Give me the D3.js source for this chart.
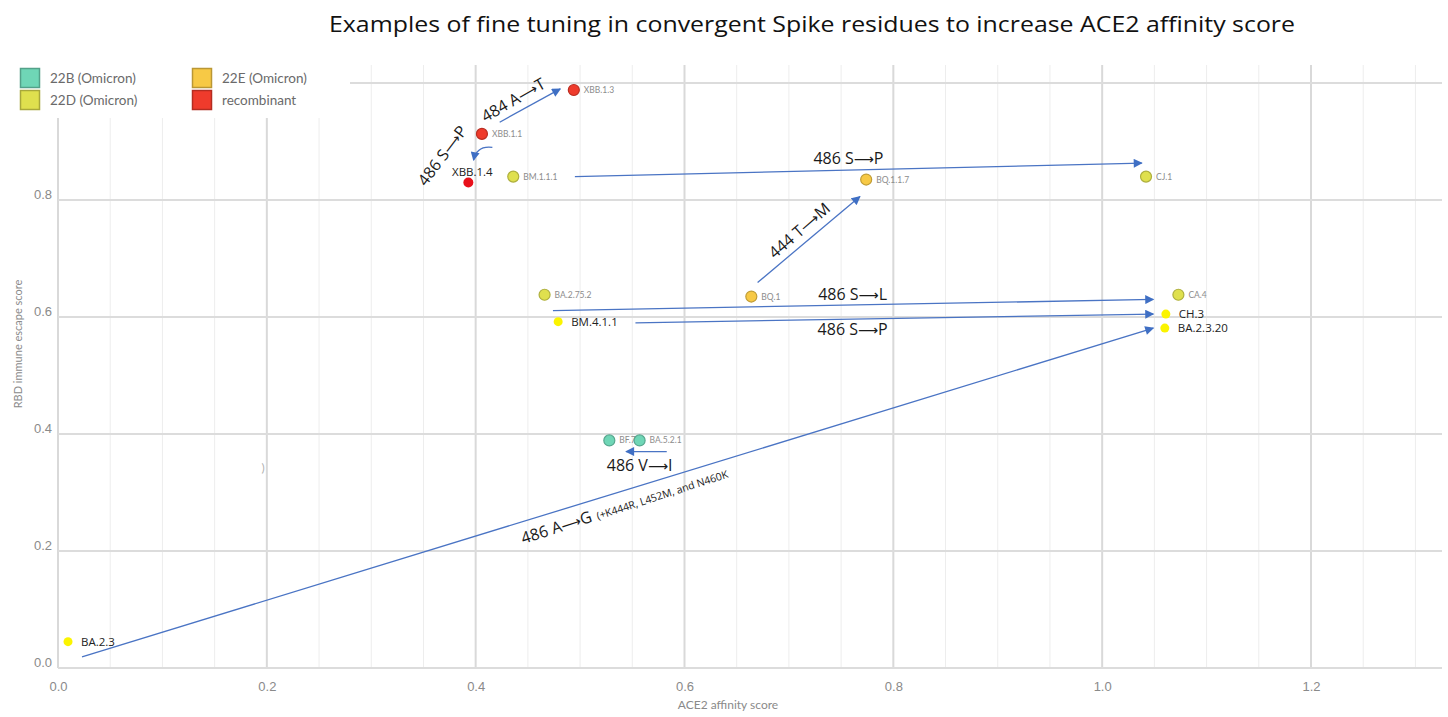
<!DOCTYPE html>
<html>
<head>
<meta charset="utf-8">
<script src="https://cdn.jsdelivr.net/npm/d3@7"></script>
<style>
  body { margin: 0; background: #fff; }
  svg { display: block; }
</style>
</head>
<body>
<div id="chart"></div>
<script>
//chart values
var clades = ["22B (Omicron)", "22D (Omicron)", "22E (Omicron)", "recombinant"];
var cladeColors = ["#6fd6b6", "#dfe04e", "#f7c945", "#ef3b2c"];

//Nextstrain points
var names  = ["XBB.1.3", "XBB.1.1", "BM.1.1.1", "BQ.1.1.7", "CJ.1", "BA.2.75.2", "BQ.1", "CA.4", "BF.7", "BA.5.2.1"];
var ace2   = [0.494, 0.406, 0.436, 0.774, 1.042, 0.466, 0.664, 1.073, 0.528, 0.557];
var escape = [0.988, 0.913, 0.840, 0.835, 0.840, 0.638, 0.635, 0.638, 0.389, 0.389];
var cladeOf = [3, 3, 1, 2, 1, 1, 2, 1, 0, 0];

//hand added points
var extraNames  = ["XBB.1.4", "BM.4.1.1", "CH.3", "BA.2.3.20", "BA.2.3"];
var extraAce2   = [0.393, 0.479, 1.061, 1.060, 0.0096];
var extraEscape = [0.830, 0.592, 0.605, 0.581, 0.045];

//mutation arrows (data units)
var arrowFromX = [0.423, 0.416, 0.495, 0.670, 0.474, 0.553, 0.023, 0.583];
var arrowFromY = [0.933, 0.890, 0.840, 0.659, 0.611, 0.590, 0.019, 0.370];
var arrowToX   = [0.481, 0.398, 1.038, 0.768, 1.049, 1.049, 1.049, 0.544];
var arrowToY   = [0.990, 0.868, 0.863, 0.806, 0.630, 0.605, 0.581, 0.370];

var mutLabels = ["484 A\u2192T", "486 S\u2192P", "486 S\u2192P", "444 T\u2192M", "486 S\u2192L", "486 S\u2192P", "486 A\u2192G", "486 V\u2192I"];
var mutX      = [0.436, 0.368, 0.757, 0.710, 0.761, 0.761, 0.444, 0.557];
var mutY      = [0.971, 0.876, 0.871, 0.748, 0.638, 0.578, 0.221, 0.346];
var mutAngle  = [-30, -53, 0, -41, 0, 0, -18, 0];

var xTicks = [0, 0.2, 0.4, 0.6, 0.8, 1.0, 1.2];
var yTicks = [0, 0.2, 0.4, 0.6, 0.8];

var width = 1448, height = 717;

var x = d3.scaleLinear().domain([0, 1.2]).range([58, 1311]);
var y = d3.scaleLinear().domain([0, 0.8]).range([668, 200]);
var xMax = x.invert(1442), yMax = y.invert(65);

var svg = d3.select("#chart").append("svg")
    .attr("width", width)
    .attr("height", height)
    .style("font-family", "Lato, 'Open Sans', sans-serif");

var defs = svg.append("defs");
defs.append("marker")
    .attr("id", "head")
    .attr("viewBox", "0 0 10 10")
    .attr("refX", 9).attr("refY", 5)
    .attr("markerWidth", 10).attr("markerHeight", 9)
    .attr("markerUnits", "userSpaceOnUse")
    .attr("orient", "auto")
    .append("path")
    .attr("d", "M0,0 L10,5 L0,10 Z")
    .attr("fill", "#3f6fc4");

//grid
var grid = svg.append("g");
var minorX = d3.range(0, xMax, 0.05);
function isMajor(d) { return Math.abs(d / 0.2 - Math.round(d / 0.2)) < 1e-6; }
grid.selectAll(".vx")
    .data(minorX)
    .enter().append("line")
    .attr("x1", function (d) { return x(d); })
    .attr("x2", function (d) { return x(d); })
    .attr("y1", y(0))
    .attr("y2", y(yMax))
    .attr("stroke", function (d) { return isMajor(d) ? "#d9d9d9" : "#ededed"; })
    .attr("stroke-width", function (d) { return isMajor(d) ? 2 : 1; });

grid.selectAll(".hy")
    .data(yTicks.concat([1.0]))
    .enter().append("line")
    .attr("x1", x(0))
    .attr("x2", x(xMax))
    .attr("y1", function (d) { return y(d); })
    .attr("y2", function (d) { return y(d); })
    .attr("stroke", "#dcdcdc")
    .attr("stroke-width", 2);

//axes
var xAxis = svg.append("g")
    .attr("transform", "translate(0," + 687 + ")")
    .call(d3.axisBottom(x).tickValues(xTicks).tickSize(0).tickFormat(d3.format(".1f")));
xAxis.select(".domain").remove();
xAxis.selectAll("text").attr("fill", "#8a8a8a").style("font-size", "13px").attr("dy", "0.32em").attr("y", 0);

var yAxis = svg.append("g")
    .attr("transform", "translate(" + 52 + ",0)")
    .call(d3.axisLeft(y).tickValues(yTicks).tickSize(0).tickFormat(d3.format(".1f")));
yAxis.select(".domain").remove();
yAxis.selectAll("text").attr("fill", "#8a8a8a").style("font-size", "13px").attr("x", 0).attr("dy", "-0.1em");

svg.append("text")
    .attr("x", 728).attr("y", 709)
    .attr("text-anchor", "middle")
    .attr("fill", "#8a8a8a")
    .style("font-size", "12px")
    .text("ACE2 affinity score");

svg.append("text")
    .attr("transform", "translate(22,344) rotate(-90)")
    .attr("text-anchor", "middle")
    .attr("fill", "#8a8a8a")
    .style("font-size", "11px")
    .text("RBD immune escape score");

//stray mark
svg.append("text")
    .attr("x", x(0.195)).attr("y", y(0.335))
    .attr("fill", "#b0b0b0")
    .style("font-size", "12px")
    .text(")");

//legend box (covers grid)
svg.append("rect")
    .attr("x", 0).attr("y", 40)
    .attr("width", 350).attr("height", 78)
    .attr("fill", "#fff");

var legendCol = [20, 192], legendRow = [68, 90];
var legendOrder = [0, 2, 1, 3];
legendOrder.forEach(function (c, i) {
    var gx = legendCol[i % 2];
    var gy = legendRow[Math.floor(i / 2)];
    var g = svg.append("g").attr("transform", "translate(" + gx + "," + gy + ")");
    g.append("rect")
        .attr("x", 0.5).attr("y", 0.5)
        .attr("width", 19).attr("height", 19)
        .attr("fill", cladeColors[c])
        .attr("stroke", d3.color(cladeColors[c]).darker(0.8))
        .attr("stroke-width", 1.5);
    g.append("text")
        .attr("x", 30).attr("y", 10)
        .attr("dy", "0.35em")
        .attr("fill", "#6a6a6a")
        .style("font-size", "13.5px")
        .text(clades[c]);
});

//arrows
var arrows = svg.append("g");
arrowFromX.forEach(function (d, i) {
    var x1 = x(arrowFromX[i]), y1 = y(arrowFromY[i]);
    var x2 = x(arrowToX[i]), y2 = y(arrowToY[i]);
    var path;
    if (i === 1) {
        //small hooked arrow
        path = "M" + x1 + "," + y1 + " Q" + (x2 + 3) + "," + (y1 - 2) + " " + x2 + "," + y2;
    } else {
        path = "M" + x1 + "," + y1 + " L" + x2 + "," + y2;
    }
    arrows.append("path")
        .attr("d", path)
        .attr("fill", "none")
        .attr("stroke", "#4a74c4")
        .attr("stroke-width", 1.3)
        .attr("marker-end", "url(#head)");
});

//points
var pts = svg.append("g");
names.forEach(function (n, i) {
    var c = cladeColors[cladeOf[i]];
    pts.append("circle")
        .attr("cx", x(ace2[i])).attr("cy", y(escape[i]))
        .attr("r", 5.5)
        .attr("fill", c)
        .attr("stroke", d3.color(c).darker(0.7))
        .attr("stroke-width", 1.2);
    pts.append("text")
        .attr("x", x(ace2[i]) + 10).attr("y", y(escape[i]))
        .attr("dy", "0.35em")
        .attr("fill", "#8c8c8c")
        .style("font-size", "8.5px")
        .text(n);
});

extraNames.forEach(function (n, i) {
    var isRecomb = n === "XBB.1.4";
    pts.append("circle")
        .attr("cx", x(extraAce2[i])).attr("cy", y(extraEscape[i]))
        .attr("r", isRecomb ? 5 : 4.5)
        .attr("fill", isRecomb ? "#e8101a" : "#fbf400");
    var t = pts.append("text")
        .attr("fill", "#222")
        .style("font-size", "11.5px")
        .style("font-family", "'Open Sans', sans-serif")
        .text(n);
    if (isRecomb) {
        t.attr("x", x(extraAce2[i]) + 4).attr("y", y(extraEscape[i]) - 10)
            .attr("text-anchor", "middle").attr("dy", "0.35em");
    } else {
        t.attr("x", x(extraAce2[i]) + 13).attr("y", y(extraEscape[i]))
            .attr("dy", "0.35em");
    }
});

//mutation labels
var labs = svg.append("g")
    .style("font-family", "'Open Sans', sans-serif")
    .attr("fill", "#1a1a1a");
mutLabels.forEach(function (m, i) {
    var parts = m.split("\u2192");
    var t = labs.append("text")
        .attr("transform", "translate(" + x(mutX[i]) + "," + y(mutY[i]) + ") rotate(" + mutAngle[i] + ")")
        .attr("dy", "0.35em")
        .attr("text-anchor", i === 6 ? "start" : "middle")
        .style("font-size", "16px");
    t.append("tspan").text(parts[0]);
    t.append("tspan")
        .style("font-family", "'DejaVu Sans', sans-serif")
        .style("font-size", "14px")
        .text("\u27F6");
    t.append("tspan").text(parts[1]);
    if (i === 6) {
        t.append("tspan")
            .attr("dx", 5)
            .style("font-size", "10.5px")
            .text("(+K444R, L452M, and N460K");
    }
});

//title
svg.append("text")
    .attr("x", 812).attr("y", 32)
    .attr("text-anchor", "middle")
    .attr("fill", "#111")
    .style("font-family", "'Open Sans', sans-serif")
    .style("font-size", "21px")
    .attr("textLength", 966)
    .attr("lengthAdjust", "spacingAndGlyphs")
    .text("Examples of fine tuning in convergent Spike residues to increase ACE2 affinity score");
</script>
</body>
</html>
